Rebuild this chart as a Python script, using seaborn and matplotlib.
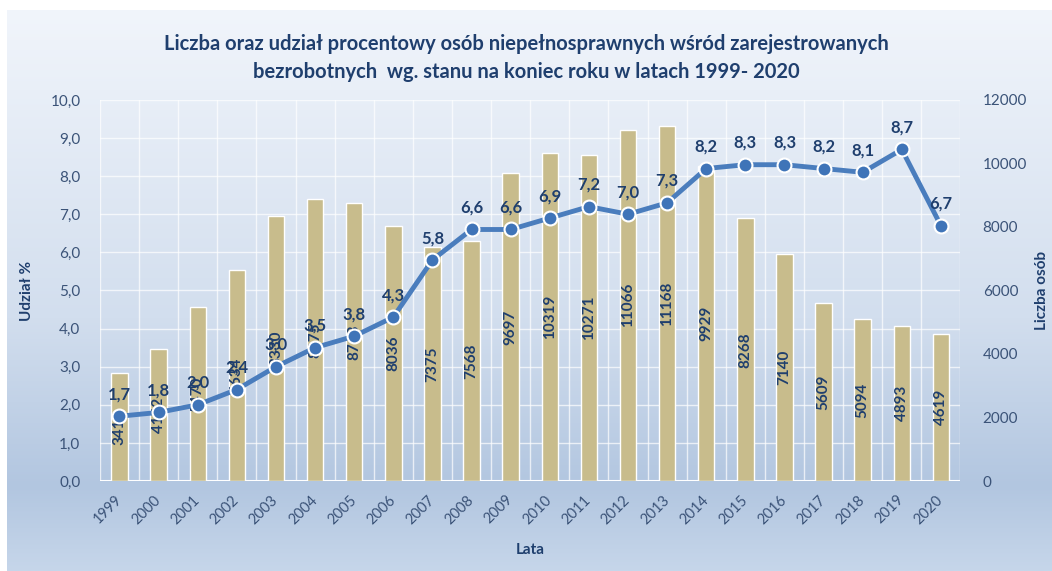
import numpy as np
import pandas as pd
import seaborn as sns
import matplotlib.pyplot as plt
from matplotlib.colors import LinearSegmentedColormap
from matplotlib.ticker import FuncFormatter, MultipleLocator

years = [str(y) for y in range(1999, 2021)]
liczba = [3413, 4142, 5470, 6634, 8330, 8875, 8763, 8036, 7375, 7568, 9697,
          10319, 10271, 11066, 11168, 9929, 8268, 7140, 5609, 5094, 4893, 4619]
udzial = [1.7, 1.8, 2.0, 2.4, 3.0, 3.5, 3.8, 4.3, 5.8, 6.6, 6.6,
          6.9, 7.2, 7.0, 7.3, 8.2, 8.3, 8.3, 8.2, 8.1, 8.7, 6.7]

df = pd.DataFrame({"Lata": years, "Liczba": liczba, "Udzial": udzial})

sns.set_theme(style="white")
plt.rcParams["font.family"] = ["Lato", "DejaVu Sans"]

navy = "#1f3f6e"
tickc = "#3b5378"
bar_c = "#c8bc8c"
line_c = "#4a7dbd"

fig = plt.figure(figsize=(10.52, 5.71), dpi=100)

# background gradient (chart area)
bg = fig.add_axes([0.0066, 0, 0.9934, 0.9825], zorder=-10)
cmap = LinearSegmentedColormap.from_list(
    "bg", [(0, "#f1f5fb"), (0.55, "#d2deee"), (0.85, "#b2c6e0"), (1, "#c6d6ea")])
grad = np.linspace(0, 1, 256).reshape(-1, 1)
bg.imshow(grad, aspect="auto", cmap=cmap, extent=[0, 1, 0, 1])
bg.set_axis_off()

ax = fig.add_axes([0.095, 0.1576, 0.818, 0.6674])
ax.set_facecolor("none")

sns.barplot(data=df, x="Lata", y="Liczba", color=bar_c, width=0.42,
            saturation=1, ax=ax, zorder=2)
ax.set_ylim(0, 12000)
ax.set_xlim(-0.5, len(years) - 0.5)

for c in ax.containers:
    ax.bar_label(c, labels=[str(v) for v in liczba], label_type="center",
                 rotation=90, color=navy, fontsize=11, fontweight="bold")

# white grid: horizontal on 1.0 steps, vertical between categories
ax.set_xticks(np.arange(-0.5, len(years)), minor=True)
ax.grid(which="minor", axis="x", color="white", lw=1, alpha=0.7, zorder=0)
ax.tick_params(axis="x", which="minor", length=6, color="white", width=1, direction="in")
for s in ax.spines.values():
    s.set_visible(False)
ax.axhline(0, color="white", lw=1.5, zorder=1)
for g in range(1, 11):
    ax.axhline(g * 1200, color="white", lw=1, alpha=0.7, zorder=0)

ax2 = ax.twinx()
ax2.set_facecolor("none")
sns.lineplot(x=np.arange(len(years)), y=udzial, color=line_c, lw=3.5,
             marker="o", markersize=10, markerfacecolor="#3f74b8",
             markeredgecolor="white", markeredgewidth=1.5, ax=ax2, zorder=5)
ax2.set_ylim(0, 10)
ax2.yaxis.tick_left()
ax2.yaxis.set_label_position("left")
ax2.yaxis.set_major_locator(MultipleLocator(1))
ax2.yaxis.set_major_formatter(FuncFormatter(lambda v, p: f"{v:.1f}".replace(".", ",")))
ax2.set_ylabel("Udział %", color=navy, fontsize=11, fontweight="bold", labelpad=12)
ax2.tick_params(axis="y", colors=tickc, labelsize=11, length=0, pad=14)
for s in ax2.spines.values():
    s.set_visible(False)
for i, v in enumerate(udzial):
    ax2.annotate(f"{v:.1f}".replace(".", ","), (i, v), xytext=(0, 10),
                 textcoords="offset points", ha="center", va="bottom",
                 color=navy, fontsize=12, fontweight="bold", zorder=6)

# counts axis on the right (after twinx, which resets it to the left)
ax.yaxis.tick_right()
ax.yaxis.set_label_position("right")
ax.yaxis.set_major_locator(MultipleLocator(2000))
ax.set_ylabel("Liczba osób", color=navy, fontsize=11, fontweight="bold", labelpad=6)
ax.set_xlabel("Lata", color=navy, fontsize=11, fontweight="bold", labelpad=12)
ax.tick_params(axis="y", colors=tickc, labelsize=11, length=0, pad=16)
ax.tick_params(axis="x", colors=tickc, labelsize=10.5, length=0, pad=12)
for lbl in ax.get_xticklabels():
    lbl.set_rotation(45)
    lbl.set_ha("right")
    lbl.set_va("center")
    lbl.set_rotation_mode("anchor")

fig.text(0.5, 0.898, "Liczba oraz udział procentowy osób niepełnosprawnych wśród zarejestrowanych\n"
         "bezrobotnych  wg. stanu na koniec roku w latach 1999- 2020",
         ha="center", va="center", color=navy, fontsize=14.5, fontweight="bold",
         linespacing=1.5)

fig.savefig("out.png", dpi=100)
